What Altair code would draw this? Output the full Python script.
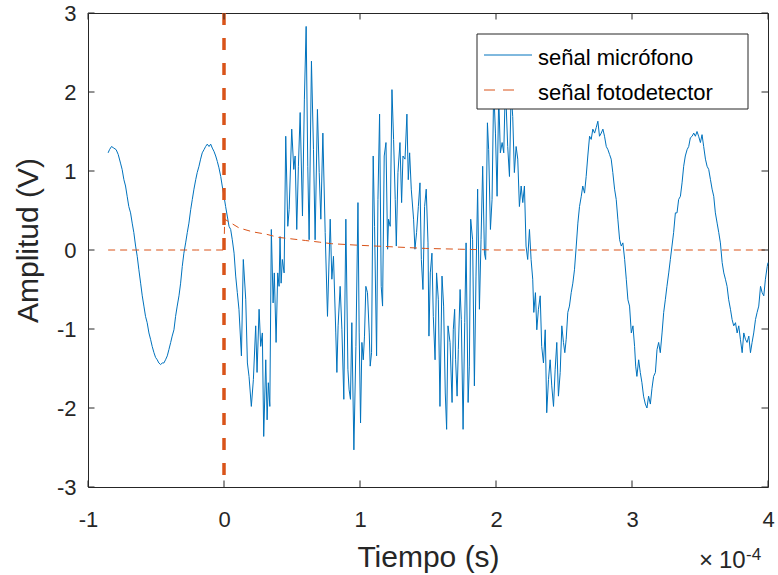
import altair as alt
import pandas as pd

# ---------------- data (time in units of 1e-4 s, amplitude in V) ----------------
mic_t_1 = [-0.852, -0.842, -0.827, -0.810, -0.793, -0.778, -0.761, -0.749, -0.736, -0.724,
           -0.712, -0.700, -0.687, -0.675, -0.663, -0.650, -0.638, -0.626, -0.613, -0.601,
           -0.589, -0.577, -0.565, -0.552, -0.540, -0.528, -0.515, -0.503, -0.491, -0.479,
           -0.466, -0.454, -0.442, -0.430, -0.417, -0.405, -0.392, -0.381, -0.368, -0.356,
           -0.344, -0.331, -0.319, -0.307, -0.295, -0.282, -0.270, -0.258, -0.245, -0.233,
           -0.221, -0.208, -0.197, -0.184, -0.172, -0.160, -0.147, -0.135, -0.123, -0.110,
           -0.098, -0.086, -0.074, -0.061, -0.049, -0.037, -0.024, -0.013, 0.000, 0.012,
           0.024, 0.037, 0.049, 0.061, 0.074, 0.086, 0.098, 0.110]
mic_v_1 = [1.23, 1.27, 1.31, 1.29, 1.27, 1.21, 1.10, 1.02, 0.89, 0.81,
           0.68, 0.55, 0.47, 0.34, 0.22, 0.05, -0.08, -0.25, -0.42, -0.58,
           -0.71, -0.84, -0.92, -1.05, -1.13, -1.22, -1.30, -1.36, -1.39, -1.43,
           -1.45, -1.43, -1.43, -1.39, -1.34, -1.26, -1.17, -1.09, -1.01, -0.84,
           -0.71, -0.58, -0.42, -0.21, -0.04, 0.09, 0.22, 0.34, 0.51, 0.64,
           0.77, 0.89, 0.98, 1.06, 1.15, 1.23, 1.27, 1.31, 1.34, 1.31,
           1.34, 1.29, 1.25, 1.19, 1.12, 1.04, 0.93, 0.81, 0.68, 0.55,
           0.43, 0.30, 0.26, 0.13, -0.04, -0.33, -0.54, -0.75]

mic_t_2 = [0.128, 0.142, 0.160, 0.172, 0.184, 0.201, 0.216, 0.233, 0.243, 0.258,
           0.270, 0.282, 0.292, 0.307, 0.317, 0.326, 0.337, 0.348, 0.361, 0.370,
           0.383, 0.395, 0.405, 0.412, 0.420, 0.429, 0.442, 0.454, 0.469, 0.479,
           0.498, 0.513, 0.523, 0.535, 0.547, 0.560, 0.577, 0.591, 0.604, 0.616,
           0.626, 0.643, 0.658, 0.670, 0.687, 0.700, 0.712, 0.727, 0.744, 0.761,
           0.781, 0.793, 0.805, 0.822, 0.830, 0.839, 0.854, 0.867, 0.881, 0.896,
           0.911, 0.920, 0.930, 0.940, 0.955, 0.970, 0.985, 0.994, 1.004]
mic_v_2 = [-1.34, -0.12, -0.63, -1.43, -1.60, -1.98, -1.64, -0.96, -1.55, -0.75,
           -1.22, -1.05, -2.36, -1.39, -2.15, -1.68, -1.98, 0.26, -0.67, -0.29,
           -1.17, -0.29, -0.46, 0.17, -0.42, -0.12, -0.29, 1.44, 0.30, 0.51,
           1.53, 1.02, 1.19, 0.26, 1.06, 1.74, 0.43, 1.91, 2.83, 1.06,
           0.13, 2.39, 1.27, 0.13, 1.78, 0.98, 0.39, 1.48, 0.22, -0.84,
           0.39, -0.37, -0.08, -1.05, -1.55, -0.96, -0.46, -1.01, -1.89, 0.39,
           -1.51, -1.77, -1.89, -0.92, -2.53, -1.22, 0.60, -1.05, -2.19]

mic_t_3 = [1.014, 1.024, 1.033, 1.043, 1.055, 1.068, 1.075, 1.085, 1.097, 1.107,
           1.122, 1.132, 1.144, 1.156, 1.166, 1.178, 1.191, 1.203, 1.210, 1.222,
           1.235, 1.247, 1.259, 1.267, 1.279, 1.294, 1.306, 1.316, 1.331, 1.345,
           1.355, 1.365, 1.377, 1.394, 1.404, 1.416, 1.429, 1.441, 1.451, 1.463,
           1.475, 1.487, 1.500, 1.507, 1.517, 1.529, 1.539, 1.552, 1.563, 1.576,
           1.588, 1.603, 1.615, 1.627, 1.637, 1.647, 1.662, 1.677, 1.686, 1.696,
           1.703, 1.714, 1.723, 1.736, 1.745, 1.758, 1.770, 1.780, 1.795, 1.804,
           1.814, 1.828, 1.841, 1.853, 1.865, 1.878, 1.890, 1.902, 1.915, 1.924,
           1.937, 1.946, 1.959, 1.971, 1.983, 1.996, 2.008, 2.020, 2.032, 2.045,
           2.057, 2.069, 2.086, 2.099]
mic_v_3 = [-1.17, -1.39, -1.09, -0.46, -0.54, -1.05, -1.47, -1.30, 1.19, 0.30,
           -1.34, 0.64, 1.72, -0.46, -0.71, 1.19, 1.36, 0.01, 0.39, 0.30,
           2.03, 1.40, 0.64, 0.05, 0.98, 1.36, 0.60, 1.19, 1.15, 1.72,
           0.89, 1.23, 0.77, 0.39, 0.01, 0.22, 0.55, 0.85, -0.12, -0.50,
           0.55, 0.77, 0.09, -1.09, -0.29, -0.04, -0.84, -1.39, -0.29, -0.63,
           -1.98, -0.33, -0.71, -1.81, -2.27, -0.96, -1.17, -1.93, -1.01, -0.75,
           -1.39, -1.85, -1.26, -0.50, -0.88, -2.27, -0.92, 0.09, -1.93, -1.47,
           0.39, 0.13, -1.72, -0.33, 0.77, -0.75, 0.13, 1.06, -0.04, -0.12,
           1.61, 1.27, 0.26, 0.64, 2.05, 1.48, 0.68, 1.95, 1.23, 1.36,
           1.23, 2.10, 1.31, 0.93]

mic_t_4 = [2.111, 2.123, 2.135, 2.148, 2.160, 2.172, 2.185, 2.197, 2.209, 2.221,
           2.233, 2.246, 2.258, 2.270, 2.278, 2.290, 2.300, 2.312, 2.325, 2.336,
           2.349, 2.362, 2.373, 2.386, 2.398, 2.410, 2.423, 2.435, 2.447, 2.459,
           2.472, 2.484, 2.496, 2.506, 2.516, 2.528, 2.540, 2.553, 2.565, 2.577,
           2.590, 2.602, 2.614, 2.627, 2.638, 2.651, 2.663, 2.675, 2.688, 2.700,
           2.712, 2.725, 2.737, 2.749, 2.761, 2.774, 2.786, 2.798, 2.811, 2.823,
           2.835, 2.847, 2.859, 2.872, 2.884, 2.896, 2.909, 2.921, 2.933, 2.946,
           2.958, 2.970]
mic_v_4 = [2.00, 1.69, 0.98, 1.31, 1.15, 0.55, 0.81, 0.60, 0.81, 0.05,
           -0.12, 0.26, -0.12, -0.37, -0.79, -0.54, -1.01, -0.75, -0.58, -1.22,
           -1.43, -1.01, -2.06, -1.64, -1.39, -1.72, -1.98, -1.51, -1.17, -1.85,
           -1.55, -0.96, -1.17, -1.30, -1.13, -0.79, -0.71, -0.54, -0.42, -0.25,
           0.05, 0.34, 0.55, 0.68, 0.81, 0.72, 0.93, 1.19, 1.44, 1.40,
           1.53, 1.48, 1.55, 1.63, 1.44, 1.48, 1.53, 1.44, 1.31, 1.27,
           1.21, 1.15, 0.98, 0.77, 0.64, 0.39, 0.13, 0.05, 0.09, -0.12,
           -0.37, -0.63]

mic_t_5 = [2.982, 2.995, 3.007, 3.019, 3.027, 3.036, 3.049, 3.061, 3.073, 3.085,
           3.098, 3.110, 3.122, 3.135, 3.147, 3.159, 3.172, 3.184, 3.196, 3.208,
           3.221, 3.233, 3.245, 3.257, 3.270, 3.282, 3.294, 3.306, 3.319, 3.331,
           3.343, 3.356, 3.368, 3.380, 3.392, 3.405, 3.417, 3.429, 3.442, 3.454,
           3.466, 3.478, 3.490, 3.503, 3.515, 3.527, 3.540, 3.552, 3.564, 3.577,
           3.589, 3.601, 3.613, 3.626, 3.638, 3.650, 3.663, 3.675, 3.687, 3.699,
           3.711, 3.724, 3.736, 3.748, 3.761, 3.773, 3.785, 3.797, 3.810, 3.822,
           3.834, 3.846, 3.859, 3.871, 3.883, 3.895, 3.908, 3.920, 3.932, 3.945,
           3.957, 3.969, 3.981, 3.994, 4.000]
mic_v_5 = [-0.71, -1.05, -0.96, -1.22, -1.47, -1.60, -1.39, -1.55, -1.68, -1.85,
           -1.95, -2.00, -1.85, -1.95, -1.75, -1.60, -1.55, -1.26, -1.17, -1.30,
           -1.05, -0.79, -0.63, -0.46, -0.29, -0.12, 0.05, 0.22, 0.47, 0.47,
           0.64, 0.68, 0.85, 1.06, 1.19, 1.27, 1.31, 1.42, 1.44, 1.48,
           1.44, 1.50, 1.44, 1.36, 1.46, 1.31, 1.15, 1.06, 1.02, 0.89,
           0.77, 0.68, 0.47, 0.34, 0.22, 0.09, -0.16, -0.29, -0.37, -0.46,
           -0.63, -0.75, -0.88, -0.96, -0.92, -1.05, -0.96, -1.13, -1.30, -1.05,
           -1.13, -1.17, -1.09, -1.30, -1.17, -1.05, -0.88, -0.79, -0.71, -0.46,
           -0.54, -0.58, -0.37, -0.21, -0.16]

pd_t = [-0.852, -0.5, -0.2, 0.0, 0.005, 0.11, 0.21, 0.31, 0.40, 0.50, 0.60, 0.70,
        0.79, 0.89, 0.99, 1.24, 1.48, 1.73, 2.0, 2.5, 3.0, 3.5, 4.0]
pd_v = [0.0, 0.0, 0.0, 0.0, 0.39, 0.28, 0.23, 0.20, 0.16, 0.14, 0.12, 0.10,
        0.08, 0.07, 0.06, 0.04, 0.02, 0.01, 0.0, 0.0, 0.0, 0.0, 0.0]

trigger_t = [0.0]
x_ticks = [-1, 0, 1, 2, 3, 4]
y_ticks = [-3, -2, -1, 0, 1, 2, 3]
legend_labels = ["señal micrófono", "señal fotodetector"]

mic_t = mic_t_1 + mic_t_2 + mic_t_3 + mic_t_4 + mic_t_5
mic_v = mic_v_1 + mic_v_2 + mic_v_3 + mic_v_4 + mic_v_5
assert len(mic_t) == len(mic_v), (len(mic_t), len(mic_v))
assert len(pd_t) == len(pd_v)

mic = pd.DataFrame({"t": mic_t, "v": mic_v})
phot = pd.DataFrame({"t": pd_t, "v": pd_v})
one = pd.DataFrame({"k": [0]})

# ---------------- style ----------------
W, H = 680, 474
BLUE = "#0072BD"
ORANGE = "#D95319"
AX = "#262626"
FONT = "Liberation Sans"

xs = alt.Scale(domain=[-1, 4], nice=False, zero=False)
ys = alt.Scale(domain=[-3, 3], nice=False, zero=False)

x_axis = alt.Axis(values=x_ticks, labelExpr="'' + datum.value", grid=False, ticks=False,
                  tickSize=0, domain=False, labelFont=FONT, labelFontSize=22, labelColor=AX,
                  labelBaseline="alphabetic", labelPadding=39, labelFlush=False,
                  title="Tiempo (s)", titleFont=FONT, titleFontSize=30,
                  titleFontWeight="normal", titleColor=AX, titleX=W / 2, titleY=79,
                  titleBaseline="alphabetic", titleAlign="center")
y_axis = alt.Axis(values=y_ticks, labelExpr="'' + datum.value", grid=False, ticks=False,
                  tickSize=0, domain=False, labelFont=FONT, labelFontSize=22, labelColor=AX,
                  labelBaseline="middle", labelAlign="right", labelPadding=12, labelFlush=False,
                  title="Amplitud (V)", titleFont=FONT, titleFontSize=30,
                  titleFontWeight="normal", titleColor=AX, titleAngle=270, titleX=-51,
                  titleY=227, titleBaseline="alphabetic", titleAlign="center")


def X(field="t"):
    return alt.X(f"{field}:Q", scale=xs, axis=x_axis)


def Y(field="v"):
    return alt.Y(f"{field}:Q", scale=ys, axis=y_axis)


mic_line = alt.Chart(mic).mark_line(color=BLUE, strokeWidth=1).encode(x=X(), y=Y())

phot_line = alt.Chart(phot).mark_line(color=ORANGE, strokeWidth=1, strokeDash=[7, 5]).encode(
    x=X(), y=Y())

trigger = alt.Chart(pd.DataFrame({"t": trigger_t})).mark_rule(
    color=ORANGE, strokeWidth=3.5, strokeDash=[12, 13]
).encode(x=X(), y=alt.value(0), y2=alt.value(H))

# inward tick marks (MATLAB box style)
xt = pd.DataFrame({"t": x_ticks})
yt = pd.DataFrame({"v": y_ticks})
TL = 6.5
tick_b = alt.Chart(xt).mark_rule(color=AX, strokeWidth=1).encode(
    x=X(), y=alt.value(H), y2=alt.value(H - TL))
tick_t = alt.Chart(xt).mark_rule(color=AX, strokeWidth=1).encode(
    x=X(), y=alt.value(0), y2=alt.value(TL))
tick_l = alt.Chart(yt).mark_rule(color=AX, strokeWidth=1).encode(
    y=Y(), x=alt.value(0), x2=alt.value(TL))
tick_r = alt.Chart(yt).mark_rule(color=AX, strokeWidth=1).encode(
    y=Y(), x=alt.value(W), x2=alt.value(W - TL))

# legend box (drawn over the data, like MATLAB)
leg_box = alt.Chart(one).mark_rect(fill="white", stroke=AX, strokeWidth=1).encode(
    x=alt.value(389), x2=alt.value(660), y=alt.value(21), y2=alt.value(96))
leg_l1 = alt.Chart(one).mark_rule(color=BLUE, strokeWidth=1).encode(
    x=alt.value(396), x2=alt.value(444), y=alt.value(42))
leg_l2 = alt.Chart(one).mark_rule(color=ORANGE, strokeWidth=1, strokeDash=[11, 8]).encode(
    x=alt.value(396), x2=alt.value(426), y=alt.value(77))
leg_t1 = alt.Chart(one).mark_text(font=FONT, fontSize=22, color="black", align="left",
                                  baseline="alphabetic").encode(
    x=alt.value(450), y=alt.value(52), text=alt.value(legend_labels[0]))
leg_t2 = alt.Chart(one).mark_text(font=FONT, fontSize=22, color="black", align="left",
                                  baseline="alphabetic").encode(
    x=alt.value(450), y=alt.value(87), text=alt.value(legend_labels[1]))

# exponent annotation "×10^-4"
exp_x = alt.Chart(one).mark_text(font=FONT, fontSize=24, color=AX, align="center",
                                 baseline="alphabetic").encode(
    x=alt.value(618), y=alt.value(555), text=alt.value("×"))
exp_10 = alt.Chart(one).mark_text(font=FONT, fontSize=24, color=AX, align="left",
                                  baseline="alphabetic").encode(
    x=alt.value(631), y=alt.value(555), text=alt.value("10"))
exp_4 = alt.Chart(one).mark_text(font=FONT, fontSize=17, color=AX, align="left",
                                 baseline="alphabetic").encode(
    x=alt.value(658), y=alt.value(547), text=alt.value("-4"))

chart = alt.layer(
    mic_line, phot_line, trigger, tick_b, tick_t, tick_l, tick_r,
    leg_box, leg_l1, leg_l2, leg_t1, leg_t2, exp_x, exp_10, exp_4,
).properties(
    width=W, height=H,
    padding={"left": 88, "top": 13, "right": 10, "bottom": 88},
    autosize=alt.AutoSizeParams(type="none"),
    background="white",
).configure_view(stroke=AX, strokeWidth=1)

chart.save("out.html", embed_options={"renderer": "svg", "actions": False})
